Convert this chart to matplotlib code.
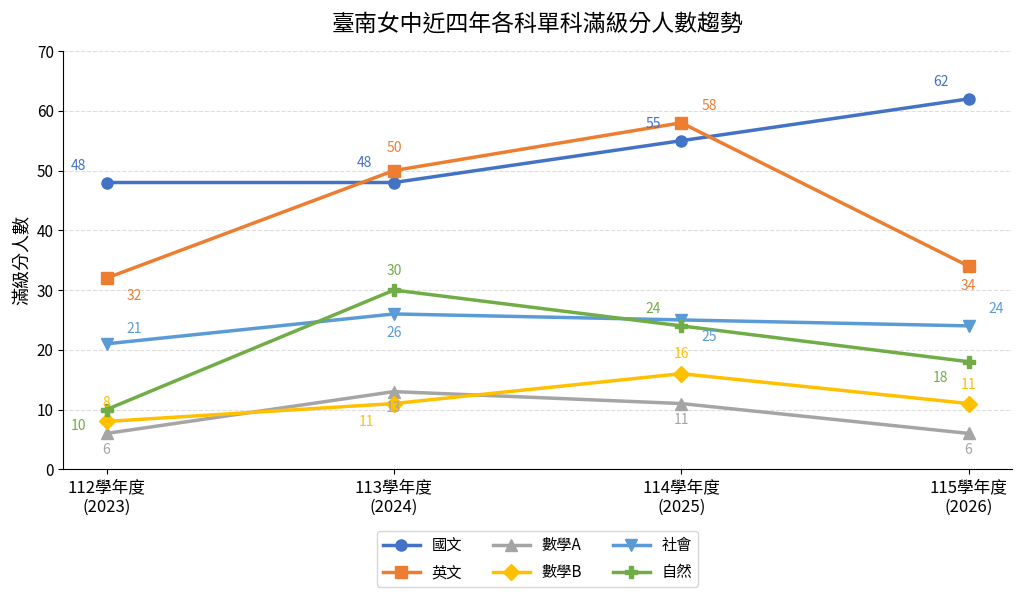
import matplotlib
matplotlib.use("Agg")
import matplotlib.pyplot as plt

plt.rcParams['font.family'] = ['Noto Sans CJK TC', 'DejaVu Sans']

# data
years = ["112學年度\n(2023)", "113學年度\n(2024)", "114學年度\n(2025)", "115學年度\n(2026)"]
subjects = ["國文", "英文", "數學A", "數學B", "社會", "自然"]
chinese = [48, 48, 55, 62]
english = [32, 50, 58, 34]
math_a = [6, 13, 11, 6]
math_b = [8, 11, 16, 11]
social = [21, 26, 25, 24]
science = [10, 30, 24, 18]

series = [chinese, english, math_a, math_b, social, science]
colors = ["#4472C4", "#ED7D31", "#A5A5A5", "#FFC000", "#5B9BD5", "#70AD47"]
markers = ["o", "s", "^", "D", "v", "P"]

# label offsets in points (per subject, per year)
offsets = [
    [(-20, 12), (-21, 14), (-20, 12), (-20, 12)],
    [(20, -13), (0, 16), (20, 12), (0, -14)],
    [(0, -12), (0, -12), (0, -12), (0, -12)],
    [(0, 13), (-20, -13), (0, 14), (0, 13)],
    [(20, 11), (0, -14), (20, -12), (20, 12)],
    [(-20, -12), (0, 14), (-20, 12), (-20, -12)],
]

fig, ax = plt.subplots(figsize=(10.24, 5.94), dpi=100)
fig.subplots_adjust(left=0.062, right=0.988, top=0.914, bottom=0.21)

x = list(range(len(years)))
for name, vals, c, m, offs in zip(subjects, series, colors, markers, offsets):
    ms = 9 if m == "P" else 8
    ax.plot(x, vals, color=c, marker=m, markersize=ms, linewidth=2.5, label=name)
    for xi, v, off in zip(x, vals, offs):
        ax.annotate(str(v), (xi, v), xytext=off, textcoords="offset points",
                    ha="center", va="center", color=c, fontsize=10)

ax.set_ylim(0, 70)
ax.set_xticks(x)
ax.set_xticklabels(years, fontsize=12)
ax.tick_params(axis='y', labelsize=11)
ax.set_ylabel("滿級分人數", fontsize=13)
ax.set_title("臺南女中近四年各科單科滿級分人數趨勢", fontsize=16.5, pad=14)
ax.grid(axis='y', linestyle='--', color='#dddddd', linewidth=0.8)
ax.set_axisbelow(True)
ax.spines['top'].set_visible(False)
ax.spines['right'].set_visible(False)

ax.legend(loc="upper center", bbox_to_anchor=(0.5, -0.13), ncol=3, fontsize=11,
          handlelength=2.4, columnspacing=2.0, labelspacing=0.65, frameon=True)

fig.savefig("out.png", dpi=100)
